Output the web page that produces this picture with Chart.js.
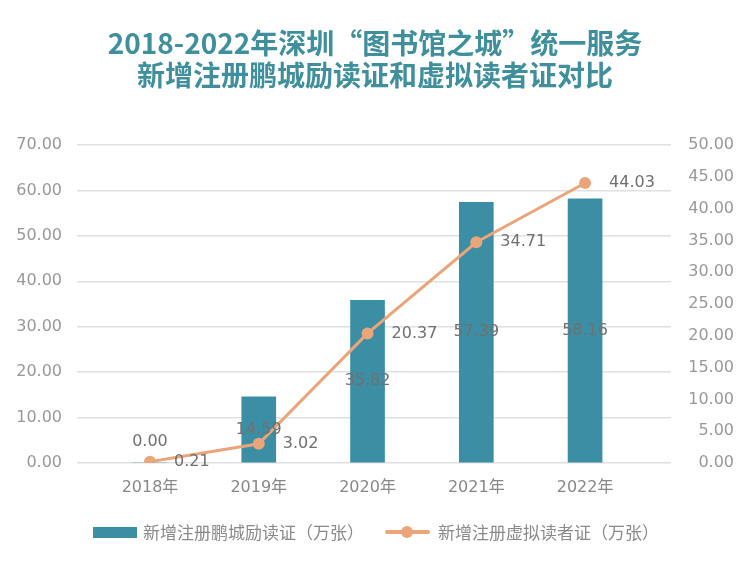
<!DOCTYPE html>
<html>
<head>
<meta charset="utf-8">
<script src="https://cdn.jsdelivr.net/npm/chart.js@4"></script>
<style>
    body { margin: 0; background: #fff; }
    #wrap { position: relative; width: 750px; height: 565px; }
    #chart { position: absolute; left: 0; top: 0; }
    .title {
        position: absolute; left: 0; top: 26px; width: 750px;
        text-align: center; color: #3f8f9d;
        font: bold 28px/32px "Noto Sans CJK SC", sans-serif;
    }
    .legend {
        position: absolute; left: 0; top: 520px; width: 750px; height: 24px;
        font: 17px/24px "Noto Sans CJK SC", sans-serif; color: #8a8a8a;
    }
    .legend span { position: absolute; top: 0; white-space: nowrap; }
    .swatch-bar { position: absolute; left: 93px; top: 7px; width: 44px; height: 11px; background: #3c8ea4; }
    .swatch-line { position: absolute; left: 385px; top: 10px; width: 45px; height: 4px; background: #eaa57a; border-radius: 2px; }
    .swatch-dot { position: absolute; left: 401px; top: 6px; width: 12px; height: 12px; border-radius: 50%; background: #eaa57a; }
</style>
</head>
<body>
<div id="wrap">
    <canvas id="chart" width="750" height="565"></canvas>
    <div class="title">2018-2022年深圳“图书馆之城”统一服务<br>新增注册鹏城励读证和虚拟读者证对比</div>
    <div class="legend">
        <div class="swatch-bar"></div>
        <span style="left:143px">新增注册鹏城励读证（万张）</span>
        <div class="swatch-line"></div>
        <div class="swatch-dot"></div>
        <span style="left:438px">新增注册虚拟读者证（万张）</span>
    </div>
</div>
<script>
    // Data
    const years = ['2018年', '2019年', '2020年', '2021年', '2022年'];
    const cards = [0, 14.59, 35.82, 57.39, 58.16];      // 新增注册鹏城励读证（万张）
    const virtualCards = [0.21, 3.02, 20.37, 34.71, 44.03]; // 新增注册虚拟读者证（万张）
    const leftMax = 70, leftStep = 10;
    const rightMax = 50, rightStep = 5;

    const barColor = '#3c8ea4';
    const lineColor = '#eaa57a';
    const tickFont = { family: '"DejaVu Sans", "Noto Sans CJK SC"', size: 16 };

    // Value labels drawn over bars and next to points
    const valueLabels = {
        id: 'valueLabels',
        afterDatasetsDraw(chart) {
            const ctx = chart.ctx;
            ctx.save();
            ctx.font = '16px "DejaVu Sans"';
            ctx.fillStyle = '#707070';
            ctx.textBaseline = 'middle';
            ctx.textAlign = 'center';
            chart.getDatasetMeta(0).data.forEach((bar, i) => {
                const y = cards[i] > 0 ? (bar.y + bar.base) / 2 : bar.base - 21;
                ctx.fillText(cards[i].toFixed(2), bar.x, y);
            });
            ctx.textAlign = 'left';
            chart.getDatasetMeta(1).data.forEach((pt, i) => {
                ctx.fillText(virtualCards[i].toFixed(2), pt.x + 24, pt.y);
            });
            ctx.restore();
        }
    };

    new Chart(document.getElementById('chart'), {
        data: {
            datasets: [{
                type: 'bar',
                label: '新增注册鹏城励读证（万张）',
                data: years.map((y, i) => ({ x: i, y: cards[i] })),
                backgroundColor: barColor,
                barThickness: 34,
                yAxisID: 'y',
                order: 1
            }, {
                type: 'line',
                label: '新增注册虚拟读者证（万张）',
                data: years.map((y, i) => ({ x: i, y: virtualCards[i] })),
                borderColor: lineColor,
                backgroundColor: lineColor,
                borderWidth: 3,
                pointRadius: 6,
                pointBorderWidth: 0,
                yAxisID: 'y1',
                order: 0
            }]
        },
        options: {
            responsive: false,
            animation: false,
            layout: { padding: { top: 145, left: 0, right: 16, bottom: 62 } },
            plugins: {
                legend: { display: false },
                tooltip: { enabled: false }
            },
            scales: {
                x: {
                    type: 'linear',
                    offset: false,
                    min: -0.671,
                    max: 4.79,
                    grid: { display: false, drawTicks: false, offset: false },
                    border: { display: false },
                    afterBuildTicks: axis => { axis.ticks = years.map((y, i) => ({ value: i })); },
                    afterFit: axis => { axis.height = 40; },
                    ticks: {
                        color: '#888',
                        font: tickFont,
                        padding: 15,
                        maxRotation: 0,
                        autoSkip: false,
                        callback: v => years[v]
                    }
                },
                y: {
                    position: 'left',
                    min: 0,
                    max: leftMax,
                    grid: { color: '#e0e0e0', lineWidth: 1.5, drawTicks: false },
                    border: { display: false },
                    afterFit: axis => { axis.width = 77; },
                    ticks: {
                        stepSize: leftStep,
                        color: '#999',
                        font: tickFont,
                        padding: 15,
                        callback: v => v.toFixed(2)
                    }
                },
                y1: {
                    position: 'right',
                    min: 0,
                    max: rightMax,
                    grid: { display: false, drawTicks: false },
                    border: { display: false },
                    afterFit: axis => { axis.width = 63; },
                    ticks: {
                        stepSize: rightStep,
                        color: '#999',
                        font: tickFont,
                        crossAlign: 'far',
                        callback: v => v.toFixed(2)
                    }
                }
            }
        },
        plugins: [valueLabels]
    });
</script>
</body>
</html>
